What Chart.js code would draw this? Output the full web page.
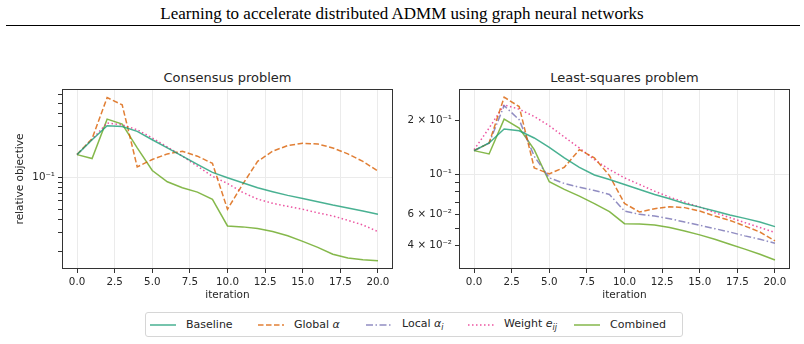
<!DOCTYPE html>
<html>
<head>
<meta charset="utf-8">
<script src="https://cdn.jsdelivr.net/npm/chart.js@4.4.1/dist/chart.umd.min.js"></script>
<style>
  body { margin: 0; width: 804px; height: 344px; background: #fff; position: relative; overflow: hidden;
         font-family: "DejaVu Sans", sans-serif; color: #262626; }
  #title { position: absolute; top: 4px; left: 0; width: 804px; line-height: 20px; text-align: center;
           font-family: "Liberation Serif", serif; font-size: 17px; color: #000; }
  #rule { position: absolute; top: 25px; left: 6px; width: 794px; border-top: 1.3px solid #000; }
  .ptitle { position: absolute; top: 70px; line-height: 16px; font-size: 13px; text-align: center; }
  .wrap { position: absolute; top: 60px; width: 400px; height: 245px; }
  #legend { position: absolute; left: 145px; top: 312px; width: 536px; height: 23px;
            border: 1px solid #d6d6d6; border-radius: 3px; font-size: 11px; }
  .item { position: absolute; top: 0; height: 23px; display: flex; align-items: center; white-space: nowrap; }
  .item svg { margin-right: 10px; }
  .item sub { font-size: 8px; vertical-align: -3px; }
</style>
</head>
<body>
<div id="title">Learning to accelerate distributed ADMM using graph neural networks</div>
<div id="rule"></div>
<div class="ptitle" style="left:62px;width:331px">Consensus problem</div>
<div class="ptitle" style="left:459px;width:331px">Least-squares problem</div>
<div class="wrap" style="left:0"><canvas id="consensusChart"></canvas></div>
<div class="wrap" style="left:400px"><canvas id="lsChart"></canvas></div>
<div id="legend"></div>

<script>
// --- Data ---
const iterations = [0, 1, 2, 3, 4, 5, 6, 7, 8, 9, 10, 11, 12, 13, 14, 15, 16, 17, 18, 19, 20];

// Consensus problem
const consensusBaseline = [0.1635, 0.226, 0.306, 0.302, 0.271, 0.226, 0.189, 0.158, 0.132, 0.111, 0.0987,
                           0.0886, 0.0795, 0.0729, 0.0673, 0.0630, 0.0587, 0.0545, 0.0511, 0.0479, 0.0446];
const consensusGlobal = [0.1635, 0.232, 0.566, 0.483, 0.125, 0.147, 0.166, 0.176, 0.158, 0.135, 0.0497,
                         0.0854, 0.141, 0.176, 0.199, 0.209, 0.206, 0.189, 0.166, 0.141, 0.114];
const consensusWeight = [0.1635, 0.228, 0.325, 0.313, 0.281, 0.235, 0.193, 0.158, 0.127, 0.102, 0.0873,
                         0.0720, 0.0620, 0.0566, 0.0530, 0.0497, 0.0460, 0.0430, 0.0391, 0.0353, 0.0306];
const consensusCombined = [0.1635, 0.150, 0.354, 0.318, 0.189, 0.1156, 0.0905, 0.0795, 0.0723, 0.0617, 0.0346,
                           0.0339, 0.0327, 0.0306, 0.0279, 0.0247, 0.0217, 0.0187, 0.0172, 0.0166, 0.0162];

// Least-squares problem
const lsBaseline = [0.1353, 0.1492, 0.1784, 0.1746, 0.1591, 0.1411, 0.1233, 0.1093, 0.0990, 0.0935, 0.0877,
                    0.0823, 0.0772, 0.0731, 0.0688, 0.0656, 0.0624, 0.0593, 0.0568, 0.0542, 0.0511];
const lsGlobal = [0.1353, 0.149, 0.2683, 0.2379, 0.1085, 0.1005, 0.1093, 0.137, 0.1233, 0.0983, 0.0688,
                  0.0616, 0.0643, 0.066, 0.0652, 0.0624, 0.0585, 0.0554, 0.0515, 0.0477, 0.0426];
const lsLocal = [0.1353, 0.149, 0.2409, 0.2009, 0.1258, 0.0955, 0.0888, 0.0847, 0.0812, 0.0772, 0.0624,
                 0.0598, 0.0585, 0.0566, 0.0542, 0.052, 0.0498, 0.0477, 0.0454, 0.0435, 0.0413];
const lsWeight = [0.137, 0.1806, 0.2431, 0.2302, 0.2096, 0.1861, 0.1611, 0.14, 0.1206, 0.1062, 0.0955,
                  0.0877, 0.0805, 0.0746, 0.07, 0.0656, 0.0611, 0.0574, 0.0538, 0.0505, 0.0474];
const lsCombined = [0.1353, 0.1297, 0.2027, 0.1806, 0.137, 0.0908, 0.0823, 0.0756, 0.0686, 0.0619, 0.0531,
                    0.0529, 0.0522, 0.0505, 0.0483, 0.046, 0.0435, 0.0408, 0.0383, 0.0359, 0.0333];

// Axis ticks
const xTicks = [0, 2.5, 5, 7.5, 10, 12.5, 15, 17.5, 20];
const consensusYTicks = [0.02, 0.03, 0.04, 0.05, 0.06, 0.07, 0.08, 0.09, 0.1, 0.2, 0.3, 0.4, 0.5, 0.6];
const consensusYLabels = { 0.1: '10\u207B\u00B9' };
const lsYTicks = [0.04, 0.05, 0.06, 0.07, 0.08, 0.09, 0.1, 0.2];
const lsYLabels = { 0.04: '4 \u00D7 10\u207B\u00B2', 0.06: '6 \u00D7 10\u207B\u00B2', 0.1: '10\u207B\u00B9', 0.2: '2 \u00D7 10\u207B\u00B9' };

// --- Series styles ---
const seriesColors = {
    baseline: 'rgba(27,158,119,0.8)',
    global: 'rgba(217,95,2,0.8)',
    local: 'rgba(117,112,179,0.8)',
    weight: 'rgba(231,41,138,0.8)',
    combined: 'rgba(102,166,30,0.8)'
};
const seriesDashes = {
    baseline: [],
    global: [5.5, 2.5],
    local: [7, 2.5, 1.5, 2.5],
    weight: [1.5, 2.5],
    combined: []
};
const legendOrder = ['baseline', 'global', 'local', 'weight', 'combined'];
const legendLabels = ['Baseline', 'Global <i>α</i>', 'Local <i>α<sub>i</sub></i>', 'Weight <i>e<sub>ij</sub></i>', 'Combined'];
const legendLeft = [4, 112, 220, 322, 428];

function series(key, label, values) {
    return {
        label: label,
        data: iterations.map((x, i) => ({ x: x, y: values[i] })),
        borderColor: seriesColors[key],
        borderDash: seriesDashes[key],
        borderWidth: 1.5,
        pointRadius: 0,
        tension: 0,
        fill: false
    };
}

const framePlugin = {
    id: 'frame',
    afterDraw(chart) {
        const { ctx, chartArea: a } = chart;
        ctx.save();
        ctx.strokeStyle = '#333';
        ctx.lineWidth = 1;
        ctx.strokeRect(a.left + 0.5, a.top + 0.5, a.right - a.left - 1, a.bottom - a.top - 1);
        ctx.restore();
    }
};

function makePanel(id, datasets, yMin, yMax, yTicks, yLabels, yTitle, yWidth, padRight) {
    return new Chart(document.getElementById(id), {
        type: 'line',
        data: { datasets: datasets },
        plugins: [framePlugin],
        options: {
            responsive: true,
            maintainAspectRatio: false,
            animation: false,
            layout: { padding: { top: 29, right: padRight, left: 0, bottom: 0 } },
            plugins: { legend: { display: false }, tooltip: { enabled: false } },
            scales: {
                x: {
                    type: 'linear',
                    min: -1,
                    max: 21,
                    afterBuildTicks: s => { s.ticks = xTicks.map(v => ({ value: v })); },
                    afterFit: s => { s.height = 36; },
                    border: { display: false },
                    grid: { color: '#ebebeb', tickColor: '#333', tickLength: 4, lineWidth: 1 },
                    ticks: {
                        color: '#262626', font: { family: 'DejaVu Sans', size: 10.3 }, padding: 3,
                        maxRotation: 0, autoSkip: false,
                        callback: v => Number(v).toFixed(1)
                    },
                    title: {
                        display: true, text: 'iteration', color: '#262626',
                        font: { family: 'DejaVu Sans', size: 10.5 }, padding: { top: 0, bottom: 3 }
                    }
                },
                y: {
                    type: 'logarithmic',
                    min: yMin,
                    max: yMax,
                    afterBuildTicks: s => { s.ticks = yTicks.map(v => ({ value: v })); },
                    afterFit: s => { s.width = yWidth; },
                    border: { display: false },
                    grid: {
                        color: c => (c.tick && c.tick.value === 0.1) ? '#ebebeb' : 'rgba(0,0,0,0)',
                        tickColor: '#333', tickLength: 4, lineWidth: 1
                    },
                    ticks: {
                        color: '#262626', font: { family: 'DejaVu Sans', size: 10.3 }, padding: 3,
                        autoSkip: false,
                        callback: v => yLabels[v] || ''
                    },
                    title: {
                        display: !!yTitle, text: yTitle || '', color: '#262626',
                        font: { family: 'DejaVu Sans', size: 10.5 }, padding: { top: 13.5, bottom: 0 }
                    }
                }
            }
        }
    });
}

makePanel('consensusChart', [
    series('baseline', 'Baseline', consensusBaseline),
    series('global', 'Global α', consensusGlobal),
    series('weight', 'Weight e_ij', consensusWeight),
    series('combined', 'Combined', consensusCombined)
], 0.01355, 0.682, consensusYTicks, consensusYLabels, 'relative objective', 62, 7);

makePanel('lsChart', [
    series('baseline', 'Baseline', lsBaseline),
    series('global', 'Global α', lsGlobal),
    series('local', 'Local α_i', lsLocal),
    series('weight', 'Weight e_ij', lsWeight),
    series('combined', 'Combined', lsCombined)
], 0.0297, 0.298, lsYTicks, lsYLabels, '', 59, 10);

// --- Shared legend ---
const legend = document.getElementById('legend');
legendOrder.forEach((key, i) => {
    const item = document.createElement('div');
    item.className = 'item';
    item.style.left = legendLeft[i] + 'px';
    const dash = seriesDashes[key].length ? seriesDashes[key].join(' ') : 'none';
    item.innerHTML = `<svg width="26" height="10"><line x1="0" y1="5" x2="26" y2="5" stroke="${seriesColors[key]}"
        stroke-width="1.5" stroke-dasharray="${dash}"/></svg><span>${legendLabels[i]}</span>`;
    legend.appendChild(item);
});
</script>
</body>
</html>
